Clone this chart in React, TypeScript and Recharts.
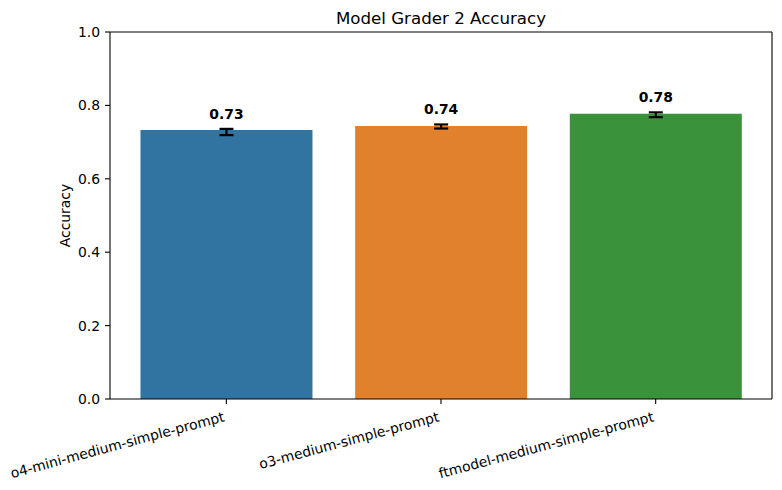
import React from 'react';
import { ComposedChart, Bar, Line, XAxis, YAxis, ErrorBar, Cell, LabelList } from 'recharts';

const categories = ['o4-mini-medium-simple-prompt', 'o3-medium-simple-prompt', 'ftmodel-medium-simple-prompt'];
const accuracy = [0.733, 0.744, 0.777];
const ciLow = [0.719, 0.737, 0.768];
const ciHigh = [0.736, 0.748, 0.781];
const barColors = ['#3274A1', '#E1812C', '#3A923A'];
const valueLabels = ['0.73', '0.74', '0.78'];
const yTicks = [0, 0.2, 0.4, 0.6, 0.8, 1.0];

const data = categories.map((name, i) => ({
  name,
  acc: accuracy[i],
  err: [accuracy[i] - ciLow[i], ciHigh[i] - accuracy[i]],
  high: ciHigh[i],
  label: valueLabels[i],
}));

const FONT = 'DejaVu Sans, sans-serif';

const XTick = (props: any) => {
  const { x, y, payload } = props;
  const ax = x - 1;
  const ay = y + 15;
  return (
    <text
      x={ax}
      y={ay}
      textAnchor="end"
      fontFamily={FONT}
      fontSize={13.9}
      fill="#000"
      transform={`rotate(-15, ${ax}, ${ay})`}
    >
      {payload.value}
    </text>
  );
};

const ValueLabel = (props: any) => {
  const { x, y, width, height, index } = props;
  const d = data[index];
  const pxPerUnit = height / d.acc;
  const base = y + height;
  const errTop = base - d.high * pxPerUnit;
  return (
    <text
      x={x + width / 2}
      y={errTop - 10}
      textAnchor="middle"
      fontFamily={FONT}
      fontSize={13.9}
      fontWeight="bold"
      fill="#000"
    >
      {d.label}
    </text>
  );
};

export default function App() {
  return (
    <div style={{ position: 'absolute', left: 0, top: 0, width: 782, height: 490, background: '#fff' }}>
      <div
        style={{
          position: 'absolute',
          left: 110,
          width: 662,
          top: 9,
          textAlign: 'center',
          fontFamily: FONT,
          fontSize: 16.67,
          color: '#000',
          lineHeight: '20px',
        }}
      >
        Model Grader 2 Accuracy
      </div>
      <ComposedChart
        width={782}
        height={490}
        data={data}
        margin={{ top: 31, right: 9, bottom: 0, left: 0 }}
        barCategoryGap="10%"
      >
        <XAxis
          dataKey="name"
          height={91}
          interval={0}
          padding={{ left: 9, right: 9 }}
          tickSize={5}
          tickMargin={2}
          axisLine={{ stroke: '#000', strokeWidth: 1.1 }}
          tickLine={{ stroke: '#000', strokeWidth: 1.1 }}
          tick={<XTick />}
        />
        <XAxis
          xAxisId="top"
          dataKey="name"
          orientation="top"
          height={1}
          padding={{ left: 9, right: 9 }}
          tick={false}
          tickLine={false}
          axisLine={{ stroke: '#000', strokeWidth: 1.1 }}
        />
        <YAxis
          width={110}
          domain={[0, 1]}
          ticks={yTicks}
          type="number"
          tickFormatter={(v: number) => v.toFixed(1)}
          tickSize={5}
          tickMargin={5}
          axisLine={{ stroke: '#000', strokeWidth: 1.1 }}
          tickLine={{ stroke: '#000', strokeWidth: 1.1 }}
          tick={{ fill: '#000', fontSize: 13.9, fontFamily: FONT }}
          label={{
            content: (p: any) => {
              const vb = p.viewBox;
              const cx = 70;
              const cy = vb.y + vb.height / 2;
              return (
                <text
                  x={cx}
                  y={cy}
                  textAnchor="middle"
                  fontFamily={FONT}
                  fontSize={13.9}
                  fill="#000"
                  transform={`rotate(-90, ${cx}, ${cy})`}
                >
                  Accuracy
                </text>
              );
            },
          }}
        />
        <YAxis
          yAxisId="right"
          orientation="right"
          width={1}
          domain={[0, 1]}
          type="number"
          tick={false}
          tickLine={false}
          axisLine={{ stroke: '#000', strokeWidth: 1.1 }}
        />
        <Bar dataKey="acc" isAnimationActive={false}>
          {data.map((d, i) => (
            <Cell key={d.name} fill={barColors[i]} />
          ))}
          <ErrorBar dataKey="err" width={7} strokeWidth={2.2} stroke="#000" direction="y" isAnimationActive={false} />
          <LabelList dataKey="label" content={<ValueLabel />} />
        </Bar>
        <Line
          dataKey="acc"
          xAxisId="top"
          yAxisId="right"
          stroke="none"
          dot={false}
          activeDot={false}
          legendType="none"
          isAnimationActive={false}
        />
      </ComposedChart>
    </div>
  );
}
